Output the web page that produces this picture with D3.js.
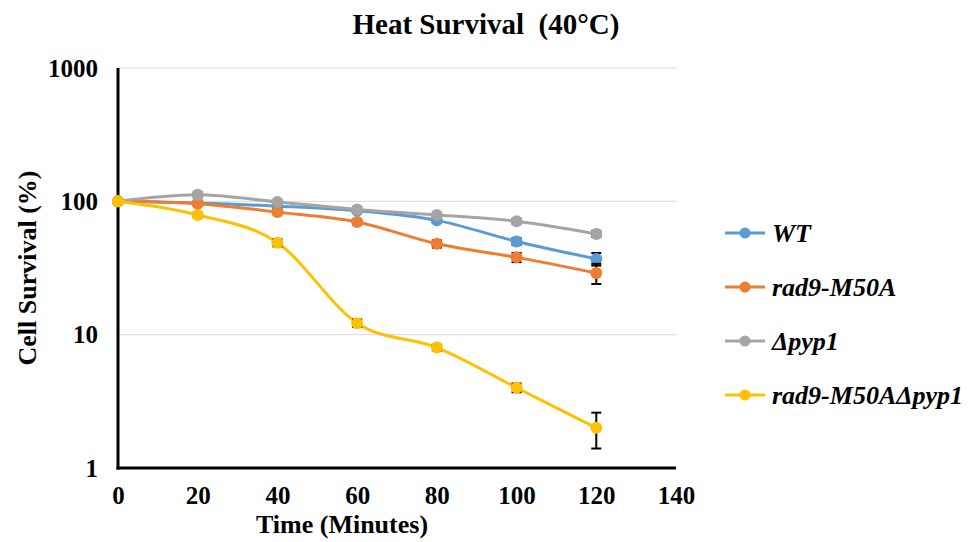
<!DOCTYPE html>
<html>
<head>
<meta charset="utf-8">
<script src="https://cdn.jsdelivr.net/npm/d3@7"></script>
<style>
  body { margin: 0; background: #fff; }
  svg text { font-family: "Liberation Serif", "Times New Roman", "DejaVu Serif", serif !important; font-weight: bold; fill: #000; }
  .grid line { stroke: #d9d9d9; stroke-width: 1; }
  .axis path, .axis line { display: none; }
  .axis text { font-size: 25px; }
</style>
</head>
<body>
<script>
"use strict";
// data
var minutes = [0, 20, 40, 60, 80, 100, 120];
var seriesNames = ["WT", "rad9-M50A", "\u0394pyp1", "rad9-M50A\u0394pyp1"];
var seriesColors = ["#5b9bd5", "#ed7d31", "#a5a5a5", "#ffc000"];
var wtValues = [100, 97, 92, 85, 72, 50, 37];
var rad9Values = [100, 96, 83, 70, 48, 38, 29];
var pyp1Values = [100, 112, 99, 87, 79, 71, 57];
var doubleValues = [100, 79, 49, 12.2, 8, 4, 2];
var wtErr = [0, 2, 2, 2, 3, 3, 4];
var rad9Err = [0, 2, 3, 3, 3, 3, 5];
var pyp1Err = [0, 5, 3, 3, 2, 3, 3];
var doubleErr = [0, 3, 3, 0.8, 0.4, 0.3, 0.6];
var xTicks = [0, 20, 40, 60, 80, 100, 120, 140];
var yTicks = [1, 10, 100, 1000];

var width = 975, height = 542;
var margin = {left: 118, right: 299, top: 68, bottom: 74};

var svg = d3.select('body').append('svg')
  .attr('width', width)
  .attr('height', height);

var xScale = d3.scaleLinear()
  .domain([0, 140])
  .range([margin.left, width - margin.right]);

var yScale = d3.scaleLog()
  .domain([1, 1000])
  .range([height - margin.bottom, margin.top]);

// grid
svg.append('g').attr('class', 'grid')
  .selectAll('line')
  .data(yTicks.slice(1))
  .enter().append('line')
  .attr('x1', xScale(0)).attr('x2', xScale(140))
  .attr('y1', function (d) { return yScale(d); })
  .attr('y2', function (d) { return yScale(d); });

// axes labels
svg.append('g').attr('class', 'axis')
  .attr('transform', 'translate(0,' + (height - margin.bottom) + ')')
  .call(d3.axisBottom(xScale).tickValues(xTicks).tickSize(0).tickPadding(18))
  .attr('font-family', null).attr('font-size', null);

svg.append('g').attr('class', 'axis')
  .attr('transform', 'translate(' + (margin.left - 20) + ',0)')
  .call(d3.axisLeft(yScale).tickValues(yTicks).tickFormat(d3.format('d')).tickSize(0).tickPadding(0))
  .attr('font-family', null).attr('font-size', null);

// axis lines
svg.append('line')
  .attr('x1', xScale(0)).attr('x2', xScale(0))
  .attr('y1', yScale(1000)).attr('y2', yScale(1) + 1.5)
  .attr('stroke', '#000').attr('stroke-width', 3);
svg.append('line')
  .attr('x1', xScale(0) - 1.5).attr('x2', xScale(140))
  .attr('y1', yScale(1)).attr('y2', yScale(1))
  .attr('stroke', '#000').attr('stroke-width', 3);

var allValues = [wtValues, rad9Values, pyp1Values, doubleValues];
var allErr = [wtErr, rad9Err, pyp1Err, doubleErr];

var line = d3.line()
  .x(function (d) { return xScale(d[0]); })
  .y(function (d) { return yScale(d[1]); })
  .curve(d3.curveCardinal.tension(0));

allValues.forEach(function (vals, i) {
  var pts = minutes.map(function (m, j) { return [m, vals[j], allErr[i][j]]; });
  var g = svg.append('g').attr('class', 'series');

  g.append('path')
    .attr('d', line(pts))
    .attr('fill', 'none')
    .attr('stroke', seriesColors[i])
    .attr('stroke-width', 3);

  // error bars
  var eb = g.selectAll('.err').data(pts.filter(function (d) { return d[2] > 0; }))
    .enter().append('g').attr('class', 'err')
    .attr('stroke', '#000').attr('stroke-width', 2);
  eb.append('line')
    .attr('x1', function (d) { return xScale(d[0]); })
    .attr('x2', function (d) { return xScale(d[0]); })
    .attr('y1', function (d) { return yScale(d[1] + d[2]); })
    .attr('y2', function (d) { return yScale(d[1] - d[2]); });
  [1, -1].forEach(function (s) {
    eb.append('line')
      .attr('x1', function (d) { return xScale(d[0]) - 5; })
      .attr('x2', function (d) { return xScale(d[0]) + 5; })
      .attr('y1', function (d) { return yScale(d[1] + s * d[2]); })
      .attr('y2', function (d) { return yScale(d[1] + s * d[2]); });
  });

  g.selectAll('circle').data(pts)
    .enter().append('circle')
    .attr('cx', function (d) { return xScale(d[0]); })
    .attr('cy', function (d) { return yScale(d[1]); })
    .attr('r', 6)
    .attr('fill', seriesColors[i]);
});

// titles
svg.append('text')
  .attr('x', 486).attr('y', 34)
  .attr('text-anchor', 'middle')
  .attr('font-size', 29)
  .attr('xml:space', 'preserve')
  .text('Heat Survival  (40\u00b0C)');

svg.append('text')
  .attr('x', 342).attr('y', 533)
  .attr('text-anchor', 'middle')
  .attr('font-size', 26)
  .text('Time (Minutes)');

svg.append('text')
  .attr('transform', 'translate(36,268) rotate(-90)')
  .attr('text-anchor', 'middle')
  .attr('font-size', 26)
  .text('Cell Survival (%)');

// legend
var legend = svg.append('g').attr('class', 'legend')
  .selectAll('g').data(seriesNames)
  .enter().append('g')
  .attr('transform', function (d, i) { return 'translate(725,' + (233 + i * 54) + ')'; });
legend.append('line')
  .attr('x1', 0).attr('x2', 40)
  .attr('stroke', function (d, i) { return seriesColors[i]; })
  .attr('stroke-width', 3);
legend.append('circle')
  .attr('cx', 20).attr('r', 5.5)
  .attr('fill', function (d, i) { return seriesColors[i]; });
legend.append('text')
  .attr('x', 47).attr('y', 9)
  .attr('font-size', 26)
  .attr('font-style', 'italic')
  .text(function (d) { return d; });
</script>
</body>
</html>
